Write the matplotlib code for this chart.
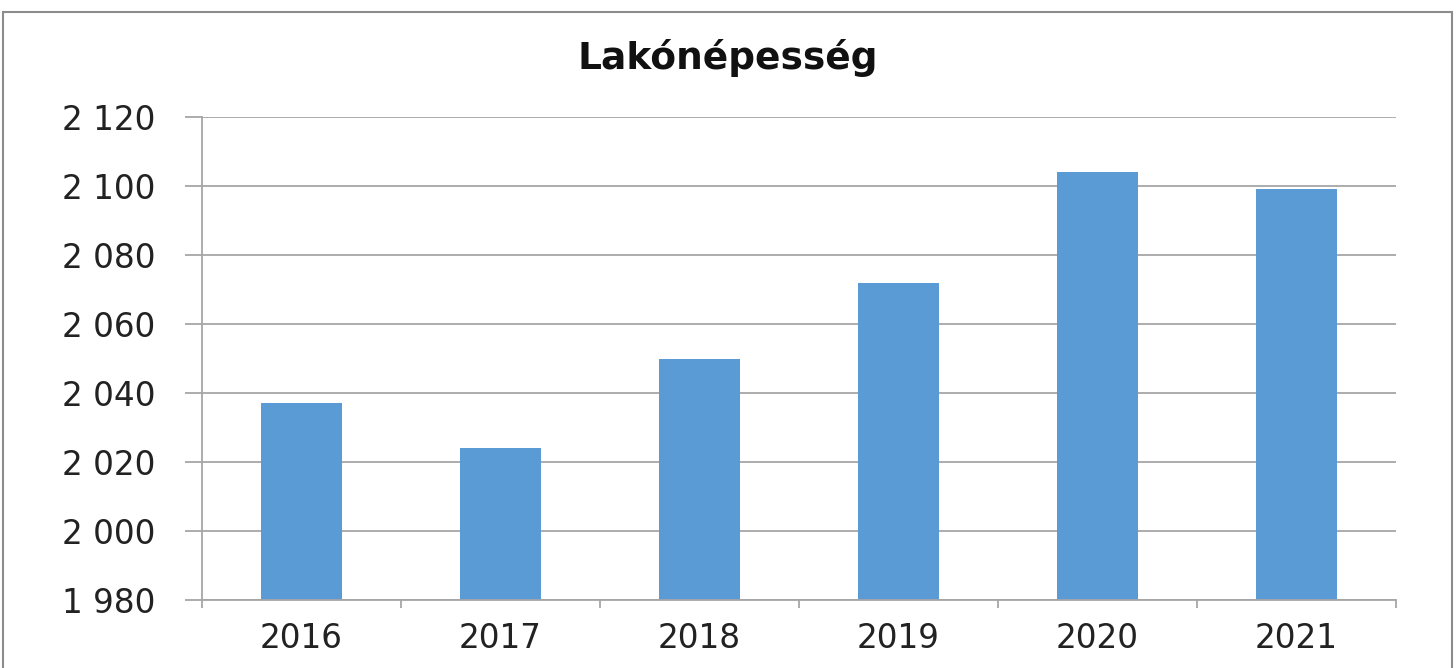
import matplotlib.pyplot as plt
from matplotlib.patches import Rectangle
from matplotlib.ticker import FuncFormatter, MultipleLocator

# data
years = ["2016", "2017", "2018", "2019", "2020", "2021"]
population = [2037, 2024, 2050, 2072, 2104, 2099]

W, H = 1456, 668
fig = plt.figure(figsize=(W / 100, H / 100), dpi=100)

# outer chart frame
fig.patches.append(Rectangle((3 / W, -0.05), 1449 / W, 1.05 - 12 / H,
                             transform=fig.transFigure, fill=False,
                             edgecolor="#8c8c8c", linewidth=1.5))

ax = fig.add_axes([202 / W, 1 - 600 / H, (1396 - 202) / W, (600 - 117) / H])

x = range(len(years))
ax.bar(x, population, width=0.405, color="#5B9BD5", zorder=2)

ax.set_xlim(-0.5, len(years) - 0.5)
ax.set_ylim(1980, 2120)
ax.yaxis.set_major_locator(MultipleLocator(20))
ax.yaxis.set_major_formatter(FuncFormatter(lambda v, p: f"{int(v):,}".replace(",", " ")))
ax.grid(axis="y", color="#a6a6a6", linewidth=1.3, zorder=0)

# category labels centred, tick marks between categories
ax.set_xticks([i - 0.5 for i in range(len(years) + 1)])
ax.set_xticklabels([])
ax.set_xticks(list(x), minor=True)
ax.set_xticklabels(years, minor=True)
ax.tick_params(axis="x", which="major", length=6, width=1.3, color="#a6a6a6", direction="out")
ax.tick_params(axis="x", which="minor", length=0, pad=16, labelsize=23.5, labelcolor="#222222")
ax.tick_params(axis="y", length=12, width=1.3, color="#a6a6a6", pad=21.5,
               labelsize=23.5, labelcolor="#222222")

for side in ["top", "right"]:
    ax.spines[side].set_visible(False)
for side in ["left", "bottom"]:
    ax.spines[side].set_color("#a6a6a6")
    ax.spines[side].set_linewidth(1.3)

fig.text(728 / W, 1 - 58 / H, "Lakónépesség", ha="center", va="center",
         fontsize=27, fontweight="bold", color="#111111")

fig.savefig("out.png", dpi=100)
